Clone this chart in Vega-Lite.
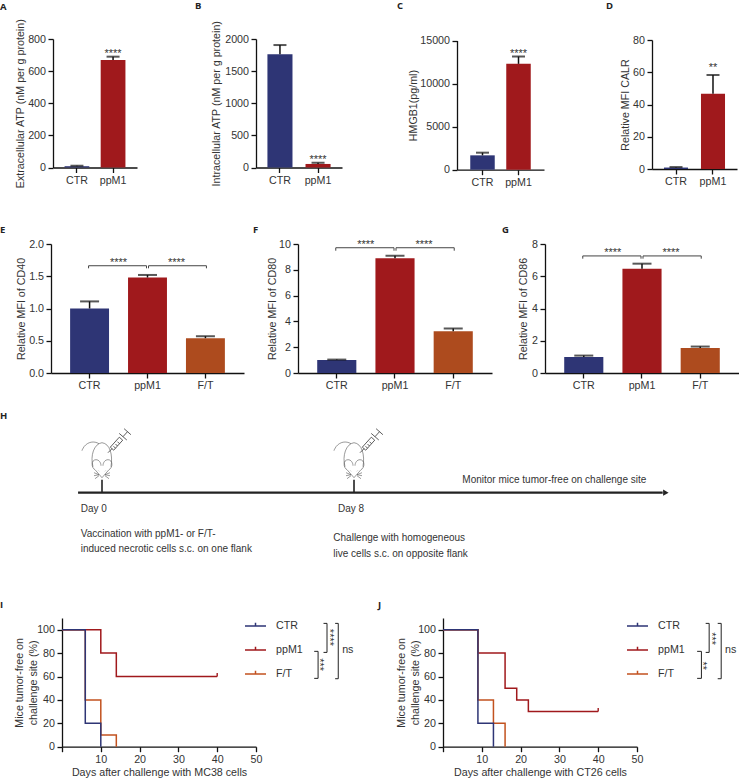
{
"$schema":"https://vega.github.io/schema/vega-lite/v6.json",
"background":"white","padding":0,"bounds":"flush","spacing":0,
"resolve":{"scale":{"color":"independent"},"legend":{"color":"independent"}},
"config":{"view":{"stroke":null},"font":"Liberation Sans",
"axis":{"grid":false,"domainColor":"#111","domainWidth":1.3,"tickColor":"#111","tickWidth":1.3,"tickSize":5,"labelFont":"Liberation Sans","titleFont":"Liberation Sans","labelFontSize":10.7,"titleFontSize":10.7,"titleLineHeight":14.5,"labelColor":"#333","titleColor":"#333","titleFontWeight":"normal","labelPadding":2.5,"labelFlush":false,"labelAngle":0,"labelOverlap":false},
"title":{"font":"Open Sans","fontSize":9.5,"fontWeight":"bold","color":"#222","anchor":"start","frame":"group"}},
"vconcat":[
{"bounds":"flush","spacing":0,"hconcat":[
{"title":{"text":"A","dx":-51,"offset":7},"width":205,"height":128.5,
"data":{"values":[{"group":"CTR","value":8,"upper":11},{"group":"ppM1","value":669,"upper":690,"stars":"****"}]},
"encoding":{"x":{"field":"group","type":"nominal","sort":["CTR","ppM1"],"title":null,"scale":{"range":[2,86],"paddingInner":0.315,"paddingOuter":0.32}}},
"layer":[
{"mark":"bar","encoding":{"y":{"field":"value","type":"quantitative","scale":{"domain":[0,800],"nice":false},"axis":{"values":[0,200,400,600,800],"tickCount":20,"format":"d","title":"Extracellular ATP (nM per g protein)","offset":-2,"titleX":-27.5}},"color":{"field":"group","type":"nominal","legend":null,"scale":{"domain":["CTR","ppM1","F/T"],"range":["#2e3575","#a0191c","#ad4b1e"]}}}},
{"mark":{"type":"rule","color":"#111","strokeWidth":1.5},"encoding":{"y":{"field":"value","type":"quantitative"},"y2":{"field":"upper"}}},
{"mark":{"type":"tick","color":"#111","size":13,"thickness":2},"encoding":{"y":{"field":"upper","type":"quantitative"}}},
{"transform":[{"filter":"datum.stars"}],"mark":{"type":"text","fontSize":11,"color":"#333","baseline":"alphabetic","dy":0},"encoding":{"y":{"field":"upper","type":"quantitative"},"text":{"field":"stars"}}}
]},
{"title":{"text":"B","dx":-61,"offset":10},"width":201,"height":128.5,
"data":{"values":[{"group":"CTR","value":1761,"upper":1906},{"group":"ppM1","value":55,"upper":75,"stars":"****"}]},
"encoding":{"x":{"field":"group","type":"nominal","sort":["CTR","ppM1"],"title":null,"scale":{"range":[0,86],"paddingInner":0.342,"paddingOuter":0.3}}},
"layer":[
{"mark":"bar","encoding":{"y":{"field":"value","type":"quantitative","scale":{"domain":[0,2000],"nice":false},"axis":{"values":[0,500,1000,1500,2000],"tickCount":20,"format":"d","title":"Intracellular ATP (nM per g protein)","titleX":-34.5}},"color":{"field":"group","type":"nominal","legend":null,"scale":{"domain":["CTR","ppM1","F/T"],"range":["#2e3575","#a0191c","#ad4b1e"]}}}},
{"mark":{"type":"rule","color":"#111","strokeWidth":1.5},"encoding":{"y":{"field":"value","type":"quantitative"},"y2":{"field":"upper"}}},
{"mark":{"type":"tick","color":"#111","size":13,"thickness":2},"encoding":{"y":{"field":"upper","type":"quantitative"}}},
{"transform":[{"filter":"datum.stars"}],"mark":{"type":"text","fontSize":11,"color":"#333","baseline":"alphabetic"},"encoding":{"y":{"field":"upper","type":"quantitative"},"text":{"field":"stars"}}}
]},
{"title":{"text":"C","dx":-60,"offset":24.5},"width":195,"height":130.7,
"data":{"values":[{"group":"CTR","value":1667,"upper":1977},{"group":"ppM1","value":12287,"upper":13140,"stars":"****"}]},
"encoding":{"x":{"field":"group","type":"nominal","sort":["CTR","ppM1"],"title":null,"scale":{"range":[0,87],"paddingInner":0.32,"paddingOuter":0.368}}},
"layer":[
{"mark":"bar","encoding":{"y":{"field":"value","type":"quantitative","scale":{"domain":[0,15000],"nice":false,"range":[130.7,1.5]},"axis":{"values":[0,5000,10000,15000],"tickCount":20,"format":"d","title":"HMGB1(pg/ml)","titleX":-38.5}},"color":{"field":"group","type":"nominal","legend":null,"scale":{"domain":["CTR","ppM1","F/T"],"range":["#2e3575","#a0191c","#ad4b1e"]}}}},
{"mark":{"type":"rule","color":"#111","strokeWidth":1.5},"encoding":{"y":{"field":"value","type":"quantitative"},"y2":{"field":"upper"}}},
{"mark":{"type":"tick","color":"#111","size":13,"thickness":2},"encoding":{"y":{"field":"upper","type":"quantitative"}}},
{"transform":[{"filter":"datum.stars"}],"mark":{"type":"text","fontSize":11,"color":"#333","baseline":"alphabetic"},"encoding":{"y":{"field":"upper","type":"quantitative"},"text":{"field":"stars"}}}
]},
{"title":{"text":"D","dx":-46,"offset":24},"width":85,"height":130,
"data":{"values":[{"group":"CTR","value":0.9,"upper":1.2},{"group":"ppM1","value":46.7,"upper":58.3,"stars":"**"}]},
"encoding":{"x":{"field":"group","type":"nominal","sort":["CTR","ppM1"],"title":null,"scale":{"range":[0,85],"paddingInner":0.35,"paddingOuter":0.324}}},
"layer":[
{"mark":"bar","encoding":{"y":{"field":"value","type":"quantitative","scale":{"domain":[0,80],"nice":false,"range":[130,1]},"axis":{"values":[0,20,40,60,80],"tickCount":20,"format":"d","title":"Relative MFI CALR","titleX":-21.5}},"color":{"field":"group","type":"nominal","legend":null,"scale":{"domain":["CTR","ppM1","F/T"],"range":["#2e3575","#a0191c","#ad4b1e"]}}}},
{"mark":{"type":"rule","color":"#111","strokeWidth":1.5},"encoding":{"y":{"field":"value","type":"quantitative"},"y2":{"field":"upper"}}},
{"mark":{"type":"tick","color":"#111","size":13,"thickness":2},"encoding":{"y":{"field":"upper","type":"quantitative"}}},
{"transform":[{"filter":"datum.stars"}],"mark":{"type":"text","fontSize":11,"color":"#333","baseline":"alphabetic","dy":-4},"encoding":{"y":{"field":"upper","type":"quantitative"},"text":{"field":"stars"}}}
]}
]},
{"width":1,"height":205,"data":{"values":[]},"mark":"point","encoding":{}},
{"bounds":"flush","spacing":0,"hconcat":[
{"title":{"text":"E","dx":-51,"offset":4},"width":247,"height":129,
"data":{"values":[{"group":"CTR","value":1.0,"upper":1.11},{"group":"ppM1","value":1.48,"upper":1.52},{"group":"F/T","value":0.54,"upper":0.57}]},
"encoding":{"x":{"field":"group","type":"nominal","sort":["CTR","ppM1","F/T"],"title":null,"scale":{"domain":["CTR","ppM1","F/T"],"range":[0,193],"paddingInner":0.328,"paddingOuter":0.33}}},
"layer":[
{"mark":"bar","encoding":{"y":{"field":"value","type":"quantitative","scale":{"domain":[0,2],"nice":false},"axis":{"values":[0,0.5,1,1.5,2],"tickCount":20,"format":".1f","title":"Relative MFI of CD40","titleX":-25}},"color":{"field":"group","type":"nominal","legend":null,"scale":{"domain":["CTR","ppM1","F/T"],"range":["#2e3575","#a0191c","#ad4b1e"]}}}},
{"mark":{"type":"rule","color":"#111","strokeWidth":1.5},"encoding":{"y":{"field":"value","type":"quantitative"},"y2":{"field":"upper"}}},
{"mark":{"type":"tick","color":"#111","size":19,"thickness":2},"encoding":{"y":{"field":"upper","type":"quantitative"}}},
{"data":{"values":[{"group":"CTR","y":1.623,"seq":1},{"group":"CTR","y":1.663,"seq":2},{"group":"ppM1","y":1.663,"seq":3},{"group":"ppM1","y":1.623,"seq":4}]},"mark":{"type":"line","color":"#444","strokeWidth":1,"xOffset":-1},"encoding":{"y":{"field":"y","type":"quantitative"},"order":{"field":"seq"}}},
{"data":{"values":[{"group":"ppM1","y":1.623,"seq":1},{"group":"ppM1","y":1.663,"seq":2},{"group":"F/T","y":1.663,"seq":3},{"group":"F/T","y":1.623,"seq":4}]},"mark":{"type":"line","color":"#444","strokeWidth":1,"xOffset":1},"encoding":{"y":{"field":"y","type":"quantitative"},"order":{"field":"seq"}}},
{"data":{"values":[{"group":"CTR","y":1.663,"stars":"****"},{"group":"ppM1","y":1.663,"stars":"****"}]},"mark":{"type":"text","fontSize":11,"color":"#333","baseline":"alphabetic","dx":29},"encoding":{"y":{"field":"y","type":"quantitative"},"text":{"field":"stars"}}}
]},
{"title":{"text":"F","dx":-45,"offset":4},"width":247,"height":129,
"data":{"values":[{"group":"CTR","value":1.0,"upper":1.04},{"group":"ppM1","value":8.9,"upper":9.09},{"group":"F/T","value":3.24,"upper":3.45}]},
"encoding":{"x":{"field":"group","type":"nominal","sort":["CTR","ppM1","F/T"],"title":null,"scale":{"domain":["CTR","ppM1","F/T"],"range":[0,194],"paddingInner":0.328,"paddingOuter":0.33}}},
"layer":[
{"mark":"bar","encoding":{"y":{"field":"value","type":"quantitative","scale":{"domain":[0,10],"nice":false},"axis":{"values":[0,2,4,6,8,10],"tickCount":20,"format":"d","title":"Relative MFI of CD80","titleX":-21}},"color":{"field":"group","type":"nominal","legend":null,"scale":{"domain":["CTR","ppM1","F/T"],"range":["#2e3575","#a0191c","#ad4b1e"]}}}},
{"mark":{"type":"rule","color":"#111","strokeWidth":1.5},"encoding":{"y":{"field":"value","type":"quantitative"},"y2":{"field":"upper"}}},
{"mark":{"type":"tick","color":"#111","size":19,"thickness":2},"encoding":{"y":{"field":"upper","type":"quantitative"}}},
{"data":{"values":[{"group":"CTR","y":9.48,"seq":1},{"group":"CTR","y":9.71,"seq":2},{"group":"ppM1","y":9.71,"seq":3},{"group":"ppM1","y":9.48,"seq":4}]},"mark":{"type":"line","color":"#444","strokeWidth":1,"xOffset":-1},"encoding":{"y":{"field":"y","type":"quantitative"},"order":{"field":"seq"}}},
{"data":{"values":[{"group":"ppM1","y":9.48,"seq":1},{"group":"ppM1","y":9.71,"seq":2},{"group":"F/T","y":9.71,"seq":3},{"group":"F/T","y":9.48,"seq":4}]},"mark":{"type":"line","color":"#444","strokeWidth":1,"xOffset":1},"encoding":{"y":{"field":"y","type":"quantitative"},"order":{"field":"seq"}}},
{"data":{"values":[{"group":"CTR","y":9.71,"stars":"****"},{"group":"ppM1","y":9.71,"stars":"****"}]},"mark":{"type":"text","fontSize":11,"color":"#333","baseline":"alphabetic","dx":29},"encoding":{"y":{"field":"y","type":"quantitative"},"text":{"field":"stars"}}}
]},
{"title":{"text":"G","dx":-43,"offset":4},"width":194,"height":129,
"data":{"values":[{"group":"CTR","value":0.995,"upper":1.08},{"group":"ppM1","value":6.47,"upper":6.78},{"group":"F/T","value":1.55,"upper":1.64}]},
"encoding":{"x":{"field":"group","type":"nominal","sort":["CTR","ppM1","F/T"],"title":null,"scale":{"domain":["CTR","ppM1","F/T"],"range":[0,194],"paddingInner":0.328,"paddingOuter":0.33}}},
"layer":[
{"mark":"bar","encoding":{"y":{"field":"value","type":"quantitative","scale":{"domain":[0,8],"nice":false},"axis":{"values":[0,2,4,6,8],"tickCount":20,"format":"d","title":"Relative MFI of CD86","titleX":-16.5}},"color":{"field":"group","type":"nominal","legend":null,"scale":{"domain":["CTR","ppM1","F/T"],"range":["#2e3575","#a0191c","#ad4b1e"]}}}},
{"mark":{"type":"rule","color":"#111","strokeWidth":1.5},"encoding":{"y":{"field":"value","type":"quantitative"},"y2":{"field":"upper"}}},
{"mark":{"type":"tick","color":"#111","size":19,"thickness":2},"encoding":{"y":{"field":"upper","type":"quantitative"}}},
{"data":{"values":[{"group":"CTR","y":7.09,"seq":1},{"group":"CTR","y":7.26,"seq":2},{"group":"ppM1","y":7.26,"seq":3},{"group":"ppM1","y":7.09,"seq":4}]},"mark":{"type":"line","color":"#444","strokeWidth":1,"xOffset":-1},"encoding":{"y":{"field":"y","type":"quantitative"},"order":{"field":"seq"}}},
{"data":{"values":[{"group":"ppM1","y":7.09,"seq":1},{"group":"ppM1","y":7.26,"seq":2},{"group":"F/T","y":7.26,"seq":3},{"group":"F/T","y":7.09,"seq":4}]},"mark":{"type":"line","color":"#444","strokeWidth":1,"xOffset":1},"encoding":{"y":{"field":"y","type":"quantitative"},"order":{"field":"seq"}}},
{"data":{"values":[{"group":"CTR","y":7.26,"stars":"****"},{"group":"ppM1","y":7.26,"stars":"****"}]},"mark":{"type":"text","fontSize":11,"color":"#333","baseline":"alphabetic","dx":29},"encoding":{"y":{"field":"y","type":"quantitative"},"text":{"field":"stars"}}}
]}
]},
{"width":1,"height":203.3,"data":{"values":[]},"mark":"point","encoding":{}},
{"title":{"text":"H","dx":-51,"offset":7},"width":620,"height":169.7,
"encoding":{"x":{"type":"quantitative","scale":{"domain":[-1.619,18.063],"nice":false},"axis":null},"y":{"type":"quantitative","scale":{"domain":[0,169.7],"reverse":true,"nice":false},"axis":null}},
"layer":[
{"data":{"values":[{"start":-0.76,"end":17.8,"lane":44.7}]},"mark":{"type":"rule","color":"#222","strokeWidth":2.2},"encoding":{"x":{"field":"start","type":"quantitative","scale":{"domain":[-1.619,18.063],"nice":false},"axis":null},"x2":{"field":"end"},"y":{"field":"lane","type":"quantitative","scale":{"domain":[0,169.7],"reverse":true,"nice":false},"axis":null}}},
{"data":{"values":[{"day":17.9,"lane":44.7}]},"mark":{"type":"point","shape":"triangle-right","filled":true,"color":"#222","size":40,"opacity":1},"encoding":{"x":{"field":"day","type":"quantitative"},"y":{"field":"lane","type":"quantitative"}}},
{"data":{"values":[{"day":0,"top":31.7,"bottom":44.7},{"day":8,"top":31.7,"bottom":44.7}]},"mark":{"type":"rule","color":"#222","strokeWidth":1.6},"encoding":{"x":{"field":"day","type":"quantitative"},"y":{"field":"top","type":"quantitative"},"y2":{"field":"bottom"}}},
{"data":{"values":[{"day":0,"lane":31.7},{"day":8,"lane":31.7}]},"mark":{"type":"point","filled":false,"opacity":1,"size":4,"color":"#555","strokeWidth":0.6,"shape":"M-9,-13C-12,-24-8,-36 0,-37C8,-36 11,-25 9,-13M-3,-36C-8,-39-14,-38-18,-33C-19,-31-20,-30-20,-29M-7,-10L0,-2L7,-10M-7,-10C-11,-12-11,-20-6,-20C-3,-20-1,-17-1,-14M7,-10C11,-12 11,-20 6,-20C3,-20 1,-17 1,-14M-3.5,-9L-3,-8.5M3.5,-9L3,-8.5M-3,-5L-8,-7M-3,-5L-8,-4M-3,-4L-7,-1M3,-5L8,-7M3,-5L8,-4M3,-4L7,-1"},"encoding":{"x":{"field":"day","type":"quantitative"},"y":{"field":"lane","type":"quantitative"}}},
{"data":{"values":[{"day":0,"lane":31.7},{"day":8,"lane":31.7}]},"mark":{"type":"point","filled":false,"opacity":1,"size":4,"color":"#333","strokeWidth":0.8,"shape":"M6,-27L10,-31M11.7,-29.5L8.3,-32.5L17.3,-42.5L20.7,-39.5ZM24.8,-39.7L17.2,-46.3M21,-43L25.5,-48M28.9,-45L22.1,-51M11.5,-33.5L13.5,-31.5M13.5,-35.7L15.5,-33.7M15.5,-38L17.5,-36"},"encoding":{"x":{"field":"day","type":"quantitative"},"y":{"field":"lane","type":"quantitative"}}},
{"data":{"values":[{"day":-0.676,"lane":64.4,"label":"Day 0"},{"day":-0.676,"lane":89.4,"label":"Vaccination with ppM1- or F/T-"},{"day":-0.676,"lane":104.4,"label":"induced necrotic cells s.c. on one flank"},{"day":7.492,"lane":64.4,"label":"Day 8"},{"day":7.343,"lane":93.4,"label":"Challenge with  homogeneous"},{"day":7.343,"lane":109.4,"label":"live cells s.c. on opposite flank"},{"day":11.438,"lane":35,"label":"Monitor mice tumor-free on challenge site"}]},"mark":{"type":"text","align":"left","baseline":"alphabetic","fontSize":10,"color":"#333"},"encoding":{"x":{"field":"day","type":"quantitative"},"y":{"field":"lane","type":"quantitative"},"text":{"field":"label"}}}
]},
{"bounds":"flush","spacing":0,
"resolve":{"scale":{"color":"independent"},"legend":{"color":"independent"}},
"hconcat":[
{"title":{"text":"I","dx":-51,"offset":5},"width":392,"height":128.7,
"layer":[
{"data":{"values":[
{"series":"ppM1","day":0,"pct":100},{"series":"ppM1","day":10,"pct":80},{"series":"ppM1","day":14,"pct":60},{"series":"ppM1","day":40,"pct":60},
{"series":"F/T","day":0,"pct":100},{"series":"F/T","day":6,"pct":40},{"series":"F/T","day":10,"pct":10},{"series":"F/T","day":14,"pct":0},
{"series":"CTR","day":0,"pct":100},{"series":"CTR","day":6,"pct":20},{"series":"CTR","day":10,"pct":0}]},
"mark":{"type":"line","interpolate":"step-after","strokeWidth":1.5},
"encoding":{"x":{"field":"day","type":"quantitative","scale":{"domain":[0,50],"range":[11,205],"nice":false},"axis":{"values":[0,10,20,30,40,50],"tickCount":20,"labelExpr":"datum.value==0?'':datum.label","title":"Days after challenge with MC38 cells","titlePadding":4}},
"y":{"field":"pct","type":"quantitative","scale":{"domain":[0,110],"nice":false},"axis":{"values":[0,20,40,60,80,100],"tickCount":20,"offset":-11,"title":["Mice tumor-free on","challenge site (%)"],"titleX":-38}},
"color":{"field":"series","type":"nominal","scale":{"domain":["CTR","ppM1","F/T"],"range":["#2e3575","#a0191c","#c2521f"]},"legend":{"orient":"none","legendX":193,"legendY":-3.5,"title":null,"symbolType":"M-1,0H1M0,0V-0.3","symbolSize":441,"symbolStrokeWidth":1.5,"labelFont":"Liberation Sans","labelFontSize":10.7,"labelColor":"#333","labelOffset":9,"rowPadding":7}}}},
{"data":{"values":[{"series":"ppM1","day":40,"pct":60,"top":63}]},"mark":{"type":"rule","color":"#a0191c","strokeWidth":1.4},"encoding":{"x":{"field":"day","type":"quantitative"},"y":{"field":"pct","type":"quantitative"},"y2":{"field":"top"}}},
{"data":{"values":[
{"id":"a","seq":1,"day":70.4,"pct":105.4},{"id":"a","seq":2,"day":71.2,"pct":105.4},{"id":"a","seq":3,"day":71.2,"pct":58.1},{"id":"a","seq":4,"day":70.4,"pct":58.1},
{"id":"b","seq":1,"day":67.4,"pct":105.4},{"id":"b","seq":2,"day":68.3,"pct":105.4},{"id":"b","seq":3,"day":68.3,"pct":80.6},{"id":"b","seq":4,"day":67.4,"pct":80.6},
{"id":"c","seq":1,"day":65,"pct":81.5},{"id":"c","seq":2,"day":66,"pct":81.5},{"id":"c","seq":3,"day":66,"pct":58.4},{"id":"c","seq":4,"day":65,"pct":58.4}]},
"mark":{"type":"line","color":"#222","strokeWidth":1},"encoding":{"x":{"field":"day","type":"quantitative"},"y":{"field":"pct","type":"quantitative"},"detail":{"field":"id"},"order":{"field":"seq"}}},
{"data":{"values":[{"day":68,"pct":93.4,"stars":"****"},{"day":65.4,"pct":70.1,"stars":"***"}]},"mark":{"type":"text","angle":90,"fontSize":11,"color":"#333","baseline":"alphabetic"},"encoding":{"x":{"field":"day","type":"quantitative"},"y":{"field":"pct","type":"quantitative"},"text":{"field":"stars"}}},
{"data":{"values":[{"day":72.2,"pct":82.9,"label":"ns"}]},"mark":{"type":"text","fontSize":10.7,"color":"#333","align":"left","baseline":"middle"},"encoding":{"x":{"field":"day","type":"quantitative"},"y":{"field":"pct","type":"quantitative"},"text":{"field":"label"}}}
]},
{"title":{"text":"J","dx":-65,"offset":5},"width":200,"height":128.7,
"layer":[
{"data":{"values":[
{"series":"ppM1","day":0,"pct":100},{"series":"ppM1","day":9,"pct":80},{"series":"ppM1","day":16,"pct":50},{"series":"ppM1","day":19,"pct":40},{"series":"ppM1","day":22,"pct":30},{"series":"ppM1","day":40,"pct":30},
{"series":"F/T","day":0,"pct":100},{"series":"F/T","day":9,"pct":40},{"series":"F/T","day":13,"pct":20},{"series":"F/T","day":16,"pct":0},
{"series":"CTR","day":0,"pct":100},{"series":"CTR","day":9,"pct":20},{"series":"CTR","day":13,"pct":0}]},
"mark":{"type":"line","interpolate":"step-after","strokeWidth":1.5},
"encoding":{"x":{"field":"day","type":"quantitative","scale":{"domain":[0,50],"range":[0,194],"nice":false},"axis":{"values":[0,10,20,30,40,50],"tickCount":20,"labelExpr":"datum.value==0?'':datum.label","title":"Days after challenge with CT26 cells","titlePadding":4}},
"y":{"field":"pct","type":"quantitative","scale":{"domain":[0,110],"nice":false},"axis":{"values":[0,20,40,60,80,100],"tickCount":20,"title":["Mice tumor-free on","challenge site (%)"],"titleX":-37}},
"color":{"field":"series","type":"nominal","scale":{"domain":["CTR","ppM1","F/T"],"range":["#2e3575","#a0191c","#c2521f"]},"legend":{"orient":"none","legendX":183,"legendY":-3.5,"title":null,"symbolType":"M-1,0H1M0,0V-0.3","symbolSize":441,"symbolStrokeWidth":1.5,"labelFont":"Liberation Sans","labelFontSize":10.7,"labelColor":"#333","labelOffset":9,"rowPadding":7}}}},
{"data":{"values":[{"series":"ppM1","day":40,"pct":30,"top":33}]},"mark":{"type":"rule","color":"#a0191c","strokeWidth":1.4},"encoding":{"x":{"field":"day","type":"quantitative"},"y":{"field":"pct","type":"quantitative"},"y2":{"field":"top"}}},
{"data":{"values":[
{"id":"a","seq":1,"day":70.8,"pct":105.4},{"id":"a","seq":2,"day":71.7,"pct":105.4},{"id":"a","seq":3,"day":71.7,"pct":58.1},{"id":"a","seq":4,"day":70.8,"pct":58.1},
{"id":"b","seq":1,"day":67.7,"pct":105.4},{"id":"b","seq":2,"day":68.6,"pct":105.4},{"id":"b","seq":3,"day":68.6,"pct":80.6},{"id":"b","seq":4,"day":67.7,"pct":80.6},
{"id":"c","seq":1,"day":65.5,"pct":81.5},{"id":"c","seq":2,"day":66.6,"pct":81.5},{"id":"c","seq":3,"day":66.6,"pct":58.4},{"id":"c","seq":4,"day":65.5,"pct":58.4}]},
"mark":{"type":"line","color":"#222","strokeWidth":1},"encoding":{"x":{"field":"day","type":"quantitative"},"y":{"field":"pct","type":"quantitative"},"detail":{"field":"id"},"order":{"field":"seq"}}},
{"data":{"values":[{"day":68.4,"pct":92.3,"stars":"***"},{"day":66.1,"pct":69.2,"stars":"**"}]},"mark":{"type":"text","angle":90,"fontSize":11,"color":"#333","baseline":"alphabetic"},"encoding":{"x":{"field":"day","type":"quantitative"},"y":{"field":"pct","type":"quantitative"},"text":{"field":"stars"}}},
{"data":{"values":[{"day":72.7,"pct":82.9,"label":"ns"}]},"mark":{"type":"text","fontSize":10.7,"color":"#333","align":"left","baseline":"middle"},"encoding":{"x":{"field":"day","type":"quantitative"},"y":{"field":"pct","type":"quantitative"},"text":{"field":"label"}}}
]}
]}
]}
